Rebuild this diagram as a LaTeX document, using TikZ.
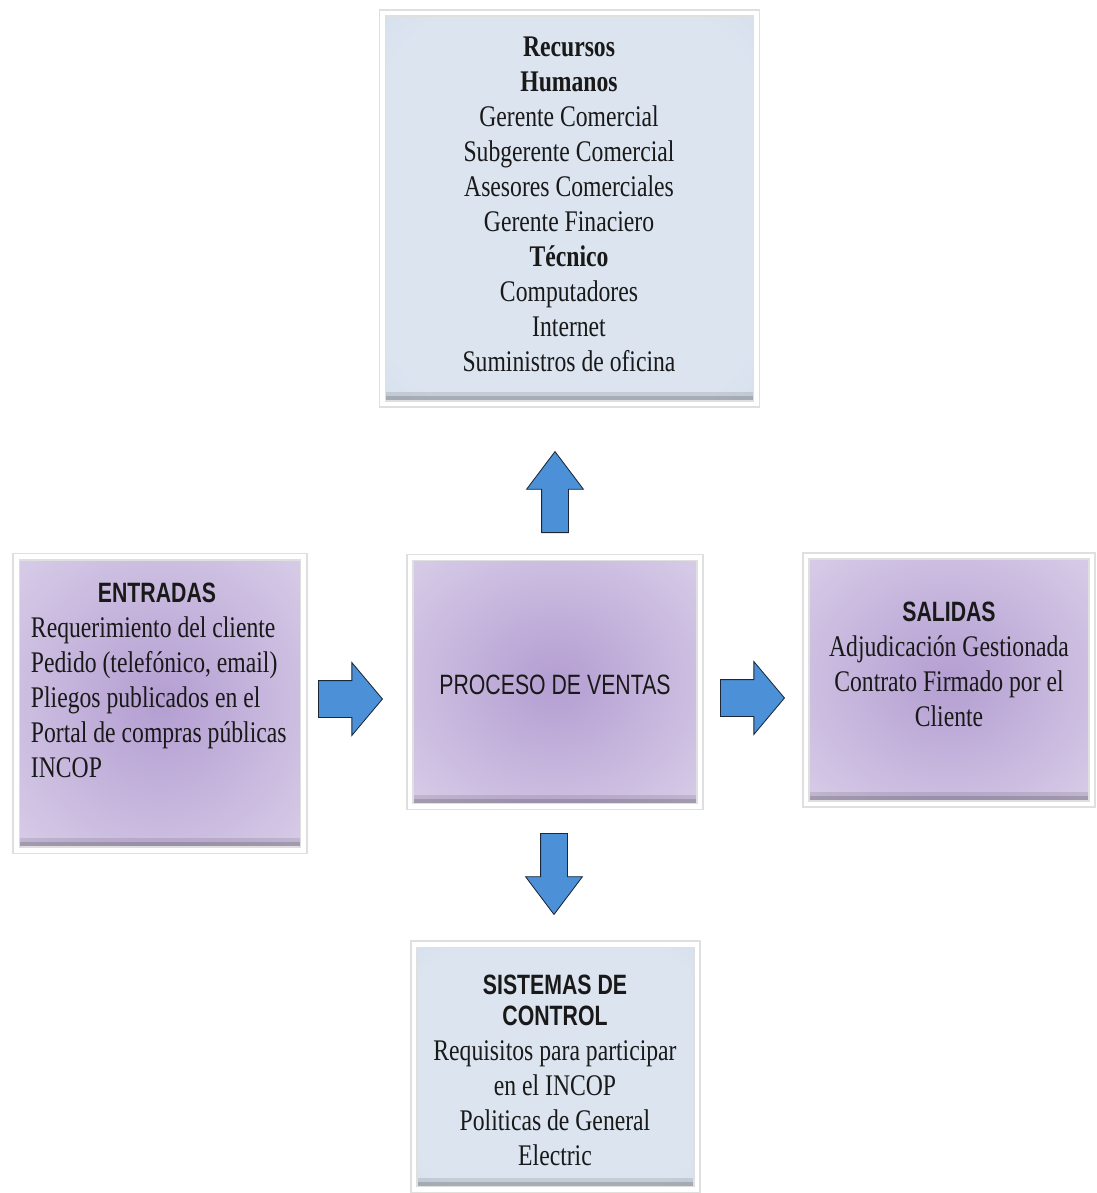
\documentclass[tikz,border=0pt]{standalone}
\usepackage{fontspec}
\setmainfont{Liberation Serif}[FakeStretch=0.79]
\setsansfont{Liberation Sans}[FakeStretch=0.76]
\usetikzlibrary{shapes.arrows}

\definecolor{lilaIn}{RGB}{180,158,210}
\definecolor{lilaOut}{RGB}{226,219,238}
\definecolor{celesteIn}{RGB}{219,228,239}
\definecolor{celesteOut}{RGB}{203,215,230}
\definecolor{flecha}{RGB}{76,145,215}
\definecolor{borde}{RGB}{28,40,55}
\definecolor{tinta}{RGB}{25,25,25}

\pgfdeclareradialshading{lila}{\pgfpoint{0bp}{0bp}}{color(0bp)=(lilaIn); color(46bp)=(lilaOut); color(50bp)=(lilaOut)}
\pgfdeclareradialshading{celeste}{\pgfpoint{0bp}{0bp}}{color(0bp)=(celesteIn); color(30bp)=(celesteIn); color(50bp)=(celesteOut)}

\newcommand{\encabezado}[1]{{\sffamily\bfseries\fontsize{19.9}{24.9}\selectfont #1}}

\begin{document}
\begin{tikzpicture}[x=0.025cm, y=-0.025cm,
    caja/.style={rectangle, draw=gray!25, line width=1pt, double=white, double distance=0.12cm,
        path picture={
            \fill[black, opacity=0.1] ([yshift=0.3cm]path picture bounding box.south west) rectangle (path picture bounding box.south east);
            \fill[black, opacity=0.15] ([yshift=0.2cm]path picture bounding box.south west) rectangle (path picture bounding box.south east);}},
    lila/.style={caja, shade, shading=lila},
    celeste/.style={caja, shade, shading=celeste},
    texto/.style={text=tinta, font=\fontsize{21.3}{24.9}\selectfont, align=center},
    flechaH/.style={single arrow, draw=borde, fill=flecha, line width=0.6pt, inner xsep=0pt, inner ysep=0.45cm,
        single arrow head extend=0.45cm, single arrow tip angle=100, minimum height=1.6cm, anchor=tail},
    flechaV/.style={single arrow, draw=borde, fill=flecha, line width=0.6pt, inner xsep=0pt, inner ysep=0.325cm,
        single arrow head extend=0.375cm, single arrow tip angle=74, minimum height=2.025cm, anchor=tail}]
\path[use as bounding box, fill=white] (0,0) rectangle (1097,1193);
% boxes
\node[celeste, minimum width=9.35cm, minimum height=9.775cm] (recursos) at (569.5,208.5) {};
\node[lila, minimum width=7.19cm, minimum height=7.33cm] (entradas) at (160,703.5) {};
\node[lila, minimum width=7.25cm, minimum height=6.225cm] (proceso) at (555,682) {};
\node[lila, minimum width=7.15cm, minimum height=6.2cm] (salidas) at (949,680) {};
\node[celeste, minimum width=7.075cm, minimum height=6.14cm] (control) at (555.5,1067) {};
% texts
\node[texto] (recursosTxt) at (569,204) {\textbf{Recursos}\\ \textbf{Humanos}\\ Gerente Comercial\\ Subgerente Comercial\\
    Asesores Comerciales\\ Gerente Finaciero\\ \textbf{Técnico}\\ Computadores\\ Internet\\ Suministros de oficina};
\node[texto, align=left, anchor=west] (entradasTxt) at (26,680) {\makebox[6.3cm]{\encabezado{ENTRADAS}}\\
    Requerimiento del cliente\\ Pedido (telefónico, email)\\ Pliegos publicados en el\\ Portal de compras públicas\\ INCOP};
\node[texto] (procesoTxt) at (555,685) {\sffamily\fontsize{19.9}{24.9}\selectfont PROCESO DE VENTAS};
\node[texto] (salidasTxt) at (949,664) {\encabezado{SALIDAS}\\ Adjudicación Gestionada\\ Contrato Firmado por el\\ Cliente};
\node[texto] (controlTxt) at (555,1070) {\encabezado{SISTEMAS DE}\\[-3pt] \encabezado{CONTROL}\\ Requisitos para participar\\
    en el INCOP\\ Politicas de General\\ Electric};
% arrows
\node[flechaV, rotate=90] (arrUp) at (555,533) {};
\node[flechaH] (arrIn) at (318,699) {};
\node[flechaH] (arrOut) at (720,698) {};
\node[flechaV, rotate=-90] (arrDown) at (554,833) {};
\end{tikzpicture}
\end{document}
